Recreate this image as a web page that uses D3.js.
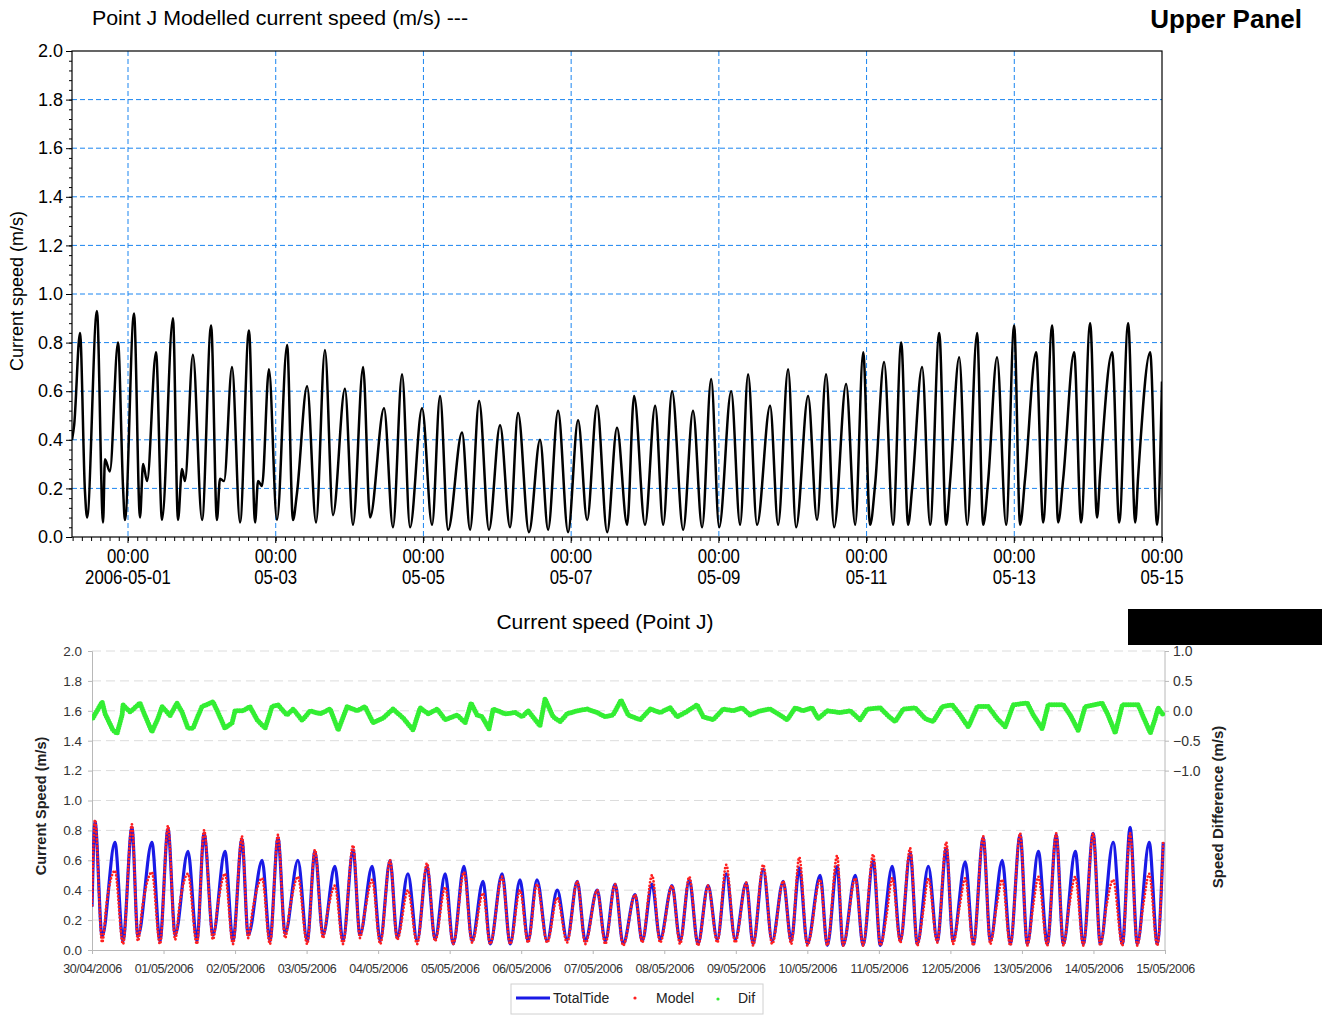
<!DOCTYPE html>
<html>
<head>
<meta charset="utf-8">
<script src="https://cdn.jsdelivr.net/npm/d3@7"></script>
<style>
  body { margin: 0; background: #fff; }
  svg { display: block; font-family: "Liberation Sans", Arial, sans-serif; }
</style>
</head>
<body>
<svg id="chart" width="1322" height="1015"></svg>
<script>
// hours since 2006-04-30 00:00, value
const upperModel = [[5.8,0.40],[6.5,0.46],[8.4,0.84],[10.0,0.19],[10.7,0.08],[13.9,0.93],[15.9,0.06],[16.5,0.32],[18.1,0.27],[20.75,0.80],[22.4,0.20],[23.0,0.07],[25.95,0.92],[27.9,0.08],[28.9,0.30],[30.2,0.23],[33.1,0.76],[35.05,0.07],[38.6,0.90],[40.25,0.07],[41.55,0.28],[42.5,0.23],[45.1,0.75],[48.05,0.07],[51.0,0.87],[52.9,0.07],[53.9,0.24],[55.2,0.23],[57.8,0.70],[60.4,0.06],[63.3,0.85],[65.3,0.06],[66.25,0.23],[67.55,0.21],[69.8,0.69],[72.4,0.07],[75.7,0.79],[77.6,0.07],[78.9,0.18],[82.2,0.62],[85.1,0.06],[88.0,0.77],[90.6,0.09],[94.5,0.61],[97.1,0.05],[100.4,0.70],[102.65,0.08],[107.2,0.53],[110.1,0.04],[113.05,0.67],[115.65,0.04],[119.55,0.53],[122.8,0.05],[125.4,0.58],[128.0,0.03],[132.55,0.43],[135.15,0.03],[138.1,0.56],[141.3,0.03],[144.9,0.46],[148.15,0.04],[150.75,0.51],[154.3,0.02],[157.9,0.40],[160.5,0.03],[163.75,0.52],[167.0,0.02],[170.25,0.48],[173.2,0.07],[176.4,0.54],[179.7,0.02],[182.9,0.45],[186.2,0.05],[188.45,0.58],[192.0,0.05],[195.3,0.54],[197.9,0.05],[200.8,0.60],[204.4,0.03],[207.6,0.52],[210.55,0.04],[213.5,0.65],[216.1,0.04],[220.0,0.60],[222.9,0.05],[225.5,0.67],[228.4,0.05],[232.65,0.54],[235.25,0.05],[238.5,0.69],[241.1,0.04],[245.0,0.58],[247.9,0.07],[250.85,0.67],[253.45,0.04],[257.35,0.63],[260.3,0.05],[262.9,0.76],[265.15,0.05],[266.8,0.22],[269.7,0.72],[272.6,0.05],[275.25,0.80],[277.5,0.05],[278.8,0.20],[282.05,0.70],[284.65,0.05],[287.6,0.84],[289.85,0.05],[291.15,0.23],[294.1,0.74],[296.7,0.05],[299.9,0.84],[301.9,0.05],[303.5,0.23],[306.4,0.74],[309.35,0.05],[311.95,0.87],[313.9,0.05],[315.5,0.24],[319.1,0.76],[321.4,0.06],[324.3,0.87],[326.25,0.06],[327.9,0.24],[331.45,0.76],[333.7,0.06],[336.65,0.88],[338.9,0.08],[339.9,0.26],[343.8,0.76],[346.1,0.06],[349.0,0.88],[351.3,0.06],[352.25,0.25],[356.15,0.76],[358.4,0.05],[360.0,0.64]]

const totalTide = [[0.0,0.29],[1.0,0.86],[3.4,0.09],[7.7,0.72],[10.4,0.06],[13.4,0.82],[15.4,0.09],[20.1,0.72],[22.8,0.06],[25.5,0.81],[27.9,0.10],[32.2,0.66],[35.2,0.06],[37.6,0.78],[40.6,0.10],[44.6,0.66],[47.3,0.06],[50.3,0.74],[52.4,0.10],[57.1,0.60],[59.7,0.06],[62.4,0.75],[64.8,0.11],[69.1,0.60],[72.2,0.06],[74.8,0.66],[77.5,0.10],[81.5,0.56],[84.2,0.06],[87.6,0.67],[89.9,0.10],[94.0,0.56],[96.7,0.06],[100.0,0.60],[102.4,0.08],[106.0,0.51],[109.1,0.06],[112.4,0.56],[115.1,0.07],[118.5,0.51],[121.2,0.04],[124.8,0.56],[127.5,0.06],[131.2,0.46],[133.6,0.04],[137.6,0.51],[140.3,0.04],[143.6,0.47],[146.3,0.06],[149.3,0.47],[152.7,0.06],[156.1,0.40],[159.4,0.07],[162.8,0.46],[165.5,0.06],[169.5,0.40],[172.2,0.06],[175.5,0.44],[178.2,0.04],[182.2,0.37],[184.6,0.06],[187.9,0.44],[190.6,0.07],[194.6,0.43],[197.3,0.06],[200.4,0.47],[203.3,0.04],[206.7,0.43],[209.8,0.07],[212.8,0.51],[215.8,0.07],[219.5,0.45],[221.8,0.04],[225.2,0.54],[228.2,0.06],[231.9,0.46],[234.6,0.06],[237.3,0.55],[240.0,0.04],[244.3,0.50],[246.7,0.03],[250.0,0.56],[252.0,0.03],[256.1,0.50],[258.7,0.03],[262.1,0.60],[264.5,0.03],[268.5,0.56],[271.2,0.06],[274.5,0.65],[276.9,0.04],[280.6,0.56],[283.6,0.06],[286.6,0.68],[288.9,0.06],[293.0,0.59],[295.7,0.04],[299.0,0.75],[301.4,0.06],[305.4,0.60],[308.1,0.04],[311.4,0.77],[313.8,0.04],[317.5,0.66],[320.5,0.04],[323.5,0.77],[325.9,0.04],[329.9,0.66],[332.6,0.04],[335.9,0.78],[338.3,0.04],[342.6,0.72],[345.7,0.04],[348.3,0.82],[350.7,0.04],[354.7,0.72],[357.4,0.04],[359.4,0.72]]

const lowerModel = [[0.0,0.30],[1.0,0.87],[3.4,0.05],[5.0,0.33],[7.7,0.53],[10.4,0.04],[13.4,0.84],[15.4,0.06],[17.0,0.30],[20.1,0.52],[22.8,0.04],[25.5,0.83],[27.9,0.07],[29.5,0.32],[32.2,0.51],[35.2,0.04],[37.6,0.80],[40.6,0.07],[42.2,0.30],[44.6,0.51],[47.3,0.04],[50.3,0.76],[52.4,0.08],[54.0,0.28],[57.1,0.48],[59.7,0.04],[62.4,0.77],[64.8,0.08],[66.4,0.28],[69.1,0.49],[72.2,0.04],[74.8,0.67],[77.5,0.08],[79.0,0.25],[81.5,0.43],[84.2,0.04],[87.6,0.70],[89.9,0.08],[91.5,0.25],[94.0,0.47],[96.7,0.04],[100.0,0.60],[102.4,0.07],[106.0,0.40],[109.1,0.04],[112.4,0.58],[115.1,0.06],[118.5,0.42],[121.2,0.04],[124.8,0.52],[127.5,0.05],[131.2,0.38],[133.6,0.04],[137.6,0.49],[140.3,0.04],[143.6,0.40],[146.3,0.05],[149.3,0.44],[152.7,0.05],[156.1,0.35],[159.4,0.05],[162.8,0.46],[165.5,0.04],[169.5,0.40],[172.2,0.04],[175.5,0.44],[178.2,0.03],[182.2,0.37],[184.6,0.05],[187.9,0.50],[190.6,0.05],[194.6,0.43],[197.3,0.04],[200.4,0.49],[203.3,0.03],[206.7,0.43],[209.8,0.05],[212.8,0.57],[215.8,0.05],[219.5,0.45],[221.8,0.03],[225.2,0.57],[228.2,0.04],[231.9,0.46],[234.6,0.04],[237.3,0.62],[240.0,0.03],[244.3,0.47],[246.7,0.03],[250.0,0.63],[252.0,0.03],[256.1,0.48],[258.7,0.03],[262.1,0.64],[264.5,0.03],[266.5,0.22],[268.5,0.48],[271.2,0.05],[274.5,0.68],[276.9,0.03],[278.8,0.25],[280.6,0.48],[283.6,0.05],[286.6,0.72],[288.9,0.04],[291.0,0.28],[293.0,0.48],[295.7,0.03],[299.0,0.76],[301.4,0.04],[303.4,0.28],[305.4,0.47],[308.1,0.03],[311.4,0.78],[313.8,0.03],[315.8,0.30],[317.5,0.49],[320.5,0.03],[323.5,0.78],[325.9,0.03],[327.9,0.30],[329.9,0.49],[332.6,0.03],[335.9,0.78],[338.3,0.03],[340.4,0.30],[342.6,0.47],[345.7,0.03],[348.3,0.78],[350.7,0.03],[352.7,0.30],[354.7,0.51],[357.4,0.03],[359.4,0.72]]

const speedDif = [[0.3,-0.12],[3.4,0.15],[4.4,-0.05],[7.0,-0.32],[8.4,-0.38],[10.1,-0.07],[10.4,0.10],[12.8,-0.02],[16.1,0.13],[17.8,-0.08],[20.1,-0.35],[22.1,-0.13],[23.5,0.07],[26.2,-0.08],[28.5,0.13],[30.2,-0.02],[32.2,-0.29],[33.9,-0.29],[35.6,-0.08],[36.9,0.07],[40.6,0.15],[42.3,-0.03],[44.6,-0.29],[47.0,-0.20],[48.0,0.0],[50.7,0.0],[53.0,0.07],[55.4,-0.15],[58.1,-0.29],[60.4,0.07],[62.4,0.10],[65.4,-0.07],[67.5,0.03],[70.5,-0.16],[73.2,0.0],[76.5,-0.05],[79.9,0.03],[82.6,-0.32],[85.6,0.07],[88.9,0.0],[91.6,0.07],[94.3,-0.20],[97.7,-0.12],[101.0,0.03],[104.4,-0.12],[107.7,-0.32],[110.1,0.05],[112.8,-0.05],[115.8,0.03],[118.5,-0.15],[122.5,-0.07],[125.2,-0.20],[127.2,0.13],[129.2,-0.07],[130.9,-0.10],[133.2,-0.30],[134.6,0.03],[138.6,-0.05],[142.0,-0.03],[144.3,-0.10],[146.3,0.0],[150.3,-0.25],[152.0,0.20],[154.7,-0.10],[157.1,-0.18],[159.4,-0.05],[162.8,0.0],[166.1,0.03],[169.5,-0.03],[172.2,-0.10],[174.8,-0.07],[177.5,0.18],[179.9,-0.07],[183.9,-0.15],[187.3,0.03],[190.6,-0.03],[194.0,0.05],[196.3,-0.10],[199.0,-0.03],[203.0,0.10],[205.1,-0.10],[208.4,-0.15],[211.8,0.03],[215.1,0.0],[218.1,0.05],[220.8,-0.07],[224.2,0.0],[227.5,0.03],[230.2,-0.05],[233.2,-0.15],[235.9,0.05],[238.6,0.0],[241.6,0.05],[243.6,-0.13],[246.7,0.0],[251.0,-0.03],[254.4,0.0],[257.7,-0.15],[260.1,0.03],[264.5,0.05],[266.8,-0.07],[269.5,-0.18],[272.2,0.03],[276.2,0.05],[279.5,-0.13],[282.2,-0.18],[285.3,0.07],[288.6,0.10],[291.3,-0.07],[294.0,-0.27],[297.0,0.07],[300.7,0.07],[303.7,-0.13],[306.4,-0.27],[309.1,0.10],[313.8,0.13],[315.8,-0.07],[318.8,-0.30],[320.8,0.10],[325.9,0.10],[328.2,-0.07],[330.9,-0.33],[333.2,0.07],[338.9,0.13],[340.9,-0.07],[343.3,-0.37],[345.7,0.10],[351.0,0.10],[352.7,-0.10],[355.1,-0.37],[356.7,-0.13],[357.7,0.05],[359.4,-0.07]]

const upperTickHours = [24, 72, 120, 168, 216, 264, 312, 360]
const upperDateLabels = ['2006-05-01', '05-03', '05-05', '05-07', '05-09', '05-11', '05-13', '05-15']
const lowerDayLabels = ['30/04/2006','01/05/2006','02/05/2006','03/05/2006','04/05/2006','05/05/2006','06/05/2006','07/05/2006','08/05/2006','09/05/2006','10/05/2006','11/05/2006','12/05/2006','13/05/2006','14/05/2006','15/05/2006']
const difTicks = [-1.0, -0.5, 0.0, 0.5, 1.0]
const legendItems = ['TotalTide', 'Model', 'Dif']

const t0 = new Date(2006, 3, 30, 0, 0)
function at(h) { return d3.timeMinute.offset(t0, Math.round(h * 60)) }

const svg = d3.select('#chart')

// ---------- upper panel ----------
const xU = d3.scaleTime().domain([at(5.8), at(360)]).range([72, 1162])
const yU = d3.scaleLinear().domain([0, 2]).range([537, 51])

svg.append('text')
    .attr('x', 92).attr('y', 25)
    .attr('font-size', 21)
    .attr('textLength', 376).attr('lengthAdjust', 'spacingAndGlyphs')
    .text('Point J Modelled current speed (m/s) ---')

svg.append('text')
    .attr('x', 1302).attr('y', 28)
    .attr('text-anchor', 'end')
    .attr('font-size', 26).attr('font-weight', 'bold')
    .text('Upper Panel')

const upper = svg.append('g')

// grid
upper.append('g').selectAll('line')
    .data(d3.range(0.2, 1.81, 0.2))
  .enter().append('line')
    .attr('x1', 72).attr('x2', 1162)
    .attr('y1', d => yU(d)).attr('y2', d => yU(d))
    .attr('stroke', '#1a85f0').attr('stroke-dasharray', '5,3')
upper.append('g').selectAll('line')
    .data(upperTickHours.slice(0, -1))
  .enter().append('line')
    .attr('x1', d => xU(at(d))).attr('x2', d => xU(at(d)))
    .attr('y1', 51).attr('y2', 537)
    .attr('stroke', '#1a85f0').attr('stroke-dasharray', '5,3')

upper.append('clipPath').attr('id', 'clipU')
  .append('rect').attr('x', 72).attr('y', 51).attr('width', 1090).attr('height', 486)

const lineU = d3.line()
    .x(d => xU(at(d[0])))
    .y(d => yU(d[1]))
    .curve(d3.curveMonotoneX)

upper.append('path')
    .datum(upperModel)
    .attr('clip-path', 'url(#clipU)')
    .attr('fill', 'none')
    .attr('stroke', '#000')
    .attr('stroke-width', 2.5)
    .attr('stroke-linejoin', 'round')
    .attr('d', lineU)

upper.append('rect')
    .attr('x', 72).attr('y', 51).attr('width', 1090).attr('height', 486)
    .attr('fill', 'none').attr('stroke', '#000').attr('stroke-width', 1.2)

// y axis
upper.append('g')
    .attr('transform', 'translate(72,0)')
    .call(d3.axisLeft(yU).tickValues(d3.range(0, 2.001, 0.04)).tickSize(3).tickFormat(''))
    .call(g => g.select('.domain').remove())
upper.append('g')
    .attr('transform', 'translate(72,0)')
    .call(d3.axisLeft(yU).tickValues(d3.range(0, 2.001, 0.2)).tickSize(6).tickFormat(d3.format('.1f')))
    .call(g => g.select('.domain').remove())
    .call(g => g.selectAll('text').attr('font-size', 18).attr('fill', '#000')
      .attr('font-family', '"Liberation Sans", Arial, sans-serif').attr('x', -9))

// x axis
upper.append('g')
    .attr('transform', 'translate(0,537)')
    .call(d3.axisBottom(xU).ticks(d3.timeHour.every(3)).tickSize(4).tickFormat(''))
    .call(g => g.select('.domain').remove())
const xTicks = upper.append('g').selectAll('g')
    .data(upperTickHours)
  .enter().append('g')
    .attr('transform', d => 'translate(' + xU(at(d)) + ',537)')
xTicks.append('line').attr('y2', 6).attr('stroke', '#000')
xTicks.append('text')
    .attr('transform', 'translate(0,26) scale(0.8,1)')
    .attr('text-anchor', 'middle')
    .attr('font-size', 21)
    .text('00:00')
xTicks.append('text')
    .attr('transform', 'translate(0,47) scale(0.8,1)')
    .attr('text-anchor', 'middle')
    .attr('font-size', 21)
    .text((d, i) => upperDateLabels[i])

svg.append('text')
    .attr('transform', 'translate(23,291) rotate(-90)')
    .attr('text-anchor', 'middle')
    .attr('font-size', 18)
    .text('Current speed (m/s)')

// ---------- lower panel ----------
const xL = d3.scaleTime().domain([at(0), at(360)]).range([92, 1165])
const yL = d3.scaleLinear().domain([0, 2]).range([950, 651])
const yR = d3.scaleLinear().domain([-4, 1]).range([950, 651])

svg.append('text')
    .attr('x', 605).attr('y', 629)
    .attr('text-anchor', 'middle')
    .attr('font-size', 21)
    .text('Current speed (Point J)')

svg.append('rect')
    .attr('x', 1128).attr('y', 609).attr('width', 194).attr('height', 36)
    .attr('fill', '#000')

const lower = svg.append('g')

lower.append('g').selectAll('line')
    .data(d3.range(0.2, 2.01, 0.2))
  .enter().append('line')
    .attr('x1', 92).attr('x2', 1165)
    .attr('y1', d => yL(d)).attr('y2', d => yL(d))
    .attr('stroke', '#dcdcdc').attr('stroke-dasharray', '9,5')

// left axis
lower.append('g')
    .attr('transform', 'translate(92,0)')
    .call(d3.axisLeft(yL).tickValues(d3.range(0, 2.001, 0.2)).tickSize(4).tickFormat(d3.format('.1f')))
    .call(g => g.select('.domain').attr('stroke', '#b8b8b8'))
    .call(g => g.selectAll('line').attr('stroke', '#b8b8b8'))
    .call(g => g.selectAll('text').attr('font-size', 13.5).attr('fill', '#333')
      .attr('font-family', '"Liberation Sans", Arial, sans-serif').attr('x', -10))

// right axis
lower.append('g')
    .attr('transform', 'translate(1165,0)')
    .call(d3.axisRight(yR).tickValues(difTicks).tickSize(4).tickFormat(d3.format('.1f')))
    .call(g => g.select('.domain').attr('stroke', '#b8b8b8').attr('d', 'M0,651V950'))
    .call(g => g.selectAll('line').attr('stroke', '#b8b8b8'))
    .call(g => g.selectAll('text').attr('font-size', 14).attr('fill', '#333')
      .attr('font-family', '"Liberation Sans", Arial, sans-serif').attr('x', 8))

// bottom axis
lower.append('g')
    .attr('transform', 'translate(0,950)')
    .call(d3.axisBottom(xL).ticks(d3.timeDay.every(1)).tickSize(4)
      .tickFormat((d, i) => lowerDayLabels[i]))
    .call(g => g.select('.domain').attr('stroke', '#b8b8b8'))
    .call(g => g.selectAll('line').attr('stroke', '#b8b8b8'))
    .call(g => g.selectAll('text').attr('font-size', 12.5).attr('fill', '#333')
      .attr('font-family', '"Liberation Sans", Arial, sans-serif').attr('y', 14)
      .attr('letter-spacing', -0.4))

lower.append('clipPath').attr('id', 'clipL')
  .append('rect').attr('x', 92).attr('y', 645).attr('width', 1074).attr('height', 306)

const lineL = d3.line()
    .x(d => xL(at(d[0])))
    .y(d => yL(d[1]))
    .curve(d3.curveMonotoneX)
const lineR = d3.line()
    .x(d => xL(at(d[0])))
    .y(d => yR(d[1]))

lower.append('path')
    .datum(totalTide)
    .attr('clip-path', 'url(#clipL)')
    .attr('fill', 'none')
    .attr('stroke', '#1a1ae6')
    .attr('stroke-width', 3.2)
    .attr('stroke-linejoin', 'round')
    .attr('d', lineL)

lower.append('path')
    .datum(lowerModel)
    .attr('clip-path', 'url(#clipL)')
    .attr('fill', 'none')
    .attr('stroke', '#ff2020')
    .attr('stroke-width', 2.8)
    .attr('stroke-linecap', 'round')
    .attr('stroke-dasharray', '0,3.5')
    .attr('d', lineL)

lower.append('path')
    .datum(speedDif)
    .attr('clip-path', 'url(#clipL)')
    .attr('fill', 'none')
    .attr('stroke', '#33ee33')
    .attr('stroke-width', 5)
    .attr('stroke-linecap', 'round')
    .attr('stroke-dasharray', '0,2.4')
    .attr('d', lineR)

svg.append('text')
    .attr('transform', 'translate(46,806) rotate(-90)')
    .attr('text-anchor', 'middle')
    .attr('font-size', 14.5).attr('font-weight', 'bold').attr('fill', '#222')
    .text('Current Speed (m/s)')

svg.append('text')
    .attr('transform', 'translate(1223,807) rotate(-90)')
    .attr('text-anchor', 'middle')
    .attr('font-size', 15).attr('font-weight', 'bold').attr('fill', '#222')
    .text('Speed Difference (m/s)')

// legend
const legend = svg.append('g').attr('transform', 'translate(511,984)')
legend.append('rect')
    .attr('width', 252).attr('height', 30)
    .attr('fill', '#fff').attr('stroke', '#d0d0d0')
legend.append('line')
    .attr('x1', 5).attr('x2', 39).attr('y1', 14).attr('y2', 14)
    .attr('stroke', '#1a1ae6').attr('stroke-width', 3)
legend.append('circle').attr('cx', 124).attr('cy', 14).attr('r', 1.6).attr('fill', '#ff2020')
legend.append('circle').attr('cx', 207).attr('cy', 15).attr('r', 1.6).attr('fill', '#33ee33')
legend.selectAll('text.item')
    .data(legendItems)
  .enter().append('text')
    .attr('class', 'item')
    .attr('x', (d, i) => [42, 145, 227][i])
    .attr('y', 19)
    .attr('font-size', 14).attr('fill', '#222')
    .text(d => d)
</script>
</body>
</html>
